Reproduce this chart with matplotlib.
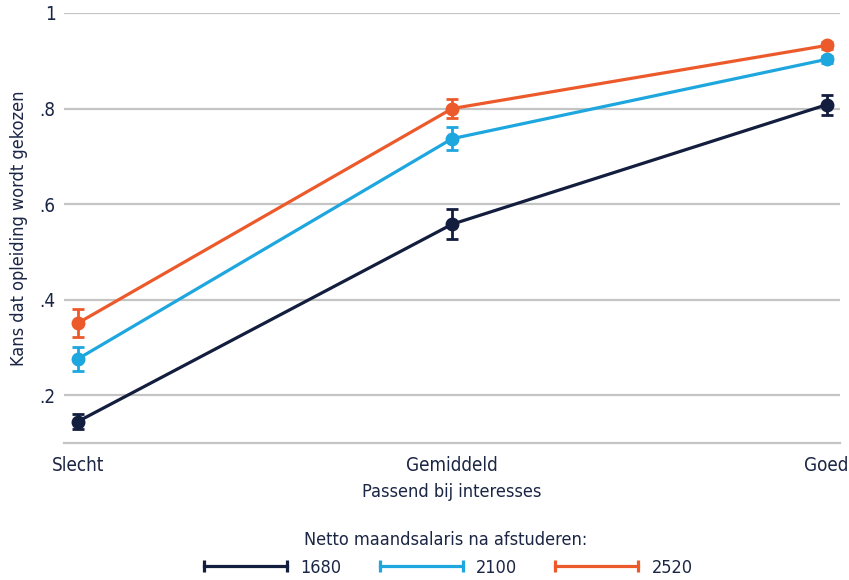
import matplotlib
matplotlib.use('Agg')
import matplotlib.pyplot as plt
from matplotlib.lines import Line2D

categories = ['Slecht', 'Gemiddeld', 'Goed']
salaries = ['1680', '2100', '2520']
kans_1680 = [0.145, 0.558, 0.808]
err_1680 = [0.016, 0.031, 0.021]
kans_2100 = [0.276, 0.737, 0.903]
err_2100 = [0.025, 0.024, 0.008]
kans_2520 = [0.351, 0.800, 0.932]
err_2520 = [0.030, 0.020, 0.007]
yticks = [0.2, 0.4, 0.6, 0.8, 1.0]
ytick_labels = ['.2', '.4', '.6', '.8', '1']

# condensed look, like the original
plt.rcParams['font.family'] = ['DejaVu Sans']
plt.rcParams['font.stretch'] = 'condensed'

text_col = '#1b2544'
colors = ['#131d3e', '#1ea6de', '#ec5a2b']

fig = plt.figure(figsize=(8.49, 5.8), dpi=100)
ax = fig.add_axes([0.0754, 0.2362, 0.9136, 0.7414])

x = list(range(len(categories)))
series = [kans_1680, kans_2100, kans_2520]
errors = [err_1680, err_2100, err_2520]
for vals, errs, col in zip(series, errors, colors):
    ax.errorbar(x, vals, yerr=errs, color=col, lw=2.3, marker='o', markersize=9,
                capsize=4, capthick=2, elinewidth=2, zorder=3)

ax.set_xlim(-0.037, 2.035)
ax.set_ylim(0.1, 1.0)
ax.set_yticks(yticks)
ax.set_yticklabels(ytick_labels)
ax.set_xticks(x)
ax.set_xticklabels(categories)
ax.grid(axis='y', color='#c4c4c4', lw=1.6, zorder=0)
ax.tick_params(length=0, labelsize=13.5, labelcolor=text_col)
ax.tick_params(axis='x', pad=9)
ax.tick_params(axis='y', pad=6)
for side in ['top', 'right', 'left']:
    ax.spines[side].set_visible(False)
ax.spines['bottom'].set_color('#c4c4c4')
ax.spines['bottom'].set_linewidth(1.6)

ax.set_ylabel('Kans dat opleiding wordt gekozen', fontsize=13, color=text_col, labelpad=8)
ax.set_xlabel('Passend bij interesses', fontsize=13, color=text_col, labelpad=6)

handles = [Line2D([0], [0], color=c, lw=2.3, marker='|', markersize=9, markeredgewidth=2.3)
           for c in colors]
leg = fig.legend(handles, salaries, loc='lower center', bbox_to_anchor=(0.525, -0.022), ncol=3,
                 frameon=False, fontsize=13, numpoints=2, handlelength=5.2,
                 columnspacing=1.8, handletextpad=0.45,
                 title='Netto maandsalaris na afstuderen:', title_fontsize=13)
for t in leg.get_texts():
    t.set_color(text_col)
leg.get_title().set_color(text_col)

fig.savefig('out.png', dpi=100)
